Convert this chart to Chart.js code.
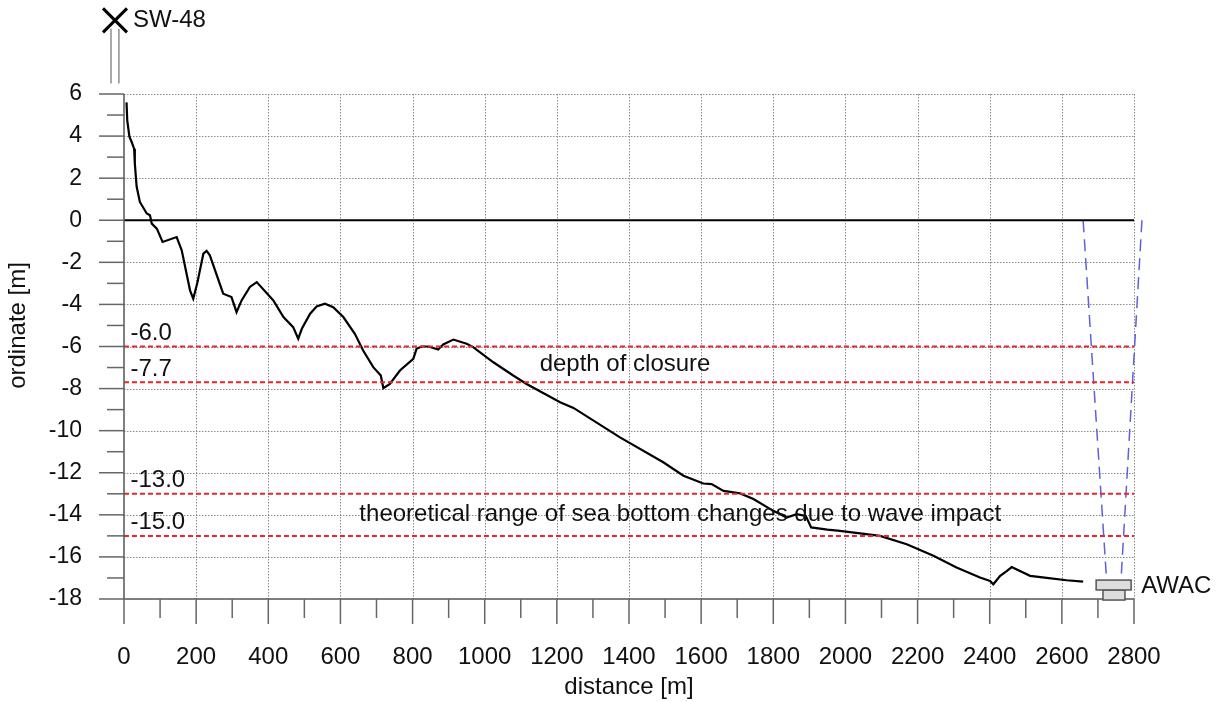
<!DOCTYPE html>
<html lang="en">
<head>
    <meta charset="UTF-8">
    <title>Profile SW-48</title>
    <script src="https://cdn.jsdelivr.net/npm/chart.js"></script>
    <style>
        body {
            margin: 0;
            background-color: #ffffff;
        }
        .wrap {
            width: 1226px;
            height: 702px;
        }
    </style>
</head>
<body>
    <div class="wrap">
        <canvas id="profileChart" width="1226" height="702"></canvas>
    </div>

    <script>
        // cross-shore profile, distance [m] vs ordinate [m]
        const profileDist = [7, 9, 15, 21, 28, 30, 35, 44, 63, 72, 77, 91, 107, 146, 160, 183, 192, 203, 220, 229,
            238, 275, 298, 312, 326, 349, 368, 414, 442, 469, 483, 493, 516, 534, 557, 580, 608, 640, 663, 691,
            712, 719, 737, 765, 802, 811, 825, 844, 871, 885, 913, 950, 968, 1024, 1079, 1116, 1153, 1209, 1246, 1375,
            1495, 1551, 1606, 1629, 1662, 1708, 1745, 1800, 1837, 1865, 1890, 1905, 1950, 1985, 2096, 2170, 2244, 2308, 2373, 2401,
            2410, 2429, 2447, 2461, 2475, 2512, 2558, 2613, 2659];
        const profileDepth = [5.6, 4.75, 3.97, 3.73, 3.4, 2.7, 1.6, 0.87, 0.32, 0.24, -0.16, -0.4, -1.03, -0.8, -1.43, -3.33, -3.73, -3.0, -1.59, -1.46,
            -1.67, -3.49, -3.65, -4.37, -3.81, -3.17, -2.94, -3.81, -4.6, -5.08, -5.63, -5.16, -4.44, -4.1, -3.97, -4.13, -4.6, -5.4, -6.19, -6.98,
            -7.38, -7.98, -7.78, -7.14, -6.59, -6.11, -6.0, -6.0, -6.14, -5.9, -5.67, -5.87, -6.03, -6.75, -7.38, -7.78, -8.13, -8.65, -8.92, -10.32,
            -11.5, -12.14, -12.51, -12.54, -12.86, -12.98, -13.25, -13.81, -14.13, -13.97, -14.05, -14.6, -14.7, -14.76, -15.0, -15.4, -15.95, -16.5, -16.98, -17.14,
            -17.3, -16.9, -16.67, -16.48, -16.6, -16.9, -17.0, -17.11, -17.17];

        const closureLevels = [-6.0, -7.7];
        const bottomChangeLevels = [-13.0, -15.0];
        const seaLevel = 0;

        // AWAC beam lines (distance, ordinate)
        const beamLeft = [[2659, 0], [2724, -17.1]];
        const beamRight = [[2822, 0], [2764, -17.1]];

        const xRange = [0, 2800];
        const yRange = [-18, 6];
        const xMajorStep = 200;
        const yMajorStep = 2;

        const FONT = 'Arial, "Liberation Sans", sans-serif';

        function hLine(level) {
            return [{ x: xRange[0], y: level }, { x: xRange[1], y: level }];
        }

        function pts(list) {
            return list.map(p => ({ x: p[0], y: p[1] }));
        }

        function strokeLine(ctx, x1, y1, x2, y2) {
            ctx.beginPath();
            ctx.moveTo(x1, y1);
            ctx.lineTo(x2, y2);
            ctx.stroke();
        }

        // dotted grid on the major steps only
        const gridPlugin = {
            id: 'dottedGrid',
            beforeDatasetsDraw(chart) {
                const { ctx, chartArea, scales: { x, y } } = chart;
                ctx.save();
                ctx.strokeStyle = '#8a8a8a';
                ctx.lineWidth = 1;
                ctx.setLineDash([1.5, 1.5]);
                for (let v = x.min + xMajorStep; v <= x.max; v += xMajorStep) {
                    const px = Math.round(x.getPixelForValue(v)) + 0.5;
                    strokeLine(ctx, px, chartArea.top, px, chartArea.bottom);
                }
                for (let v = y.min + yMajorStep; v <= y.max; v += yMajorStep) {
                    const py = Math.round(y.getPixelForValue(v)) + 0.5;
                    strokeLine(ctx, chartArea.left, py, chartArea.right, py);
                }
                ctx.restore();
            }
        };

        // tick marks, axis title, station marks and text notes
        const extrasPlugin = {
            id: 'extras',
            afterDraw(chart) {
                const { ctx, chartArea, scales: { x, y } } = chart;
                const line = (x1, y1, x2, y2) => strokeLine(ctx, x1, y1, x2, y2);
                ctx.save();
                ctx.strokeStyle = '#555';
                ctx.lineWidth = 1.5;
                line(chartArea.left, chartArea.top, chartArea.left, chartArea.bottom);
                line(chartArea.left, chartArea.bottom, chartArea.right, chartArea.bottom);
                ctx.strokeStyle = '#666';
                // major ticks plus a minor tick halfway between them
                for (let v = x.min; v <= x.max; v += xMajorStep / 2) {
                    const px = x.getPixelForValue(v);
                    const len = v % xMajorStep === 0 ? 25 : 19;
                    line(px, chartArea.bottom, px, chartArea.bottom + len);
                }
                for (let v = y.min; v <= y.max; v += yMajorStep / 2) {
                    const py = y.getPixelForValue(v);
                    const len = v % yMajorStep === 0 ? 25 : 17;
                    line(chartArea.left - len, py, chartArea.left, py);
                }

                // SW-48 benchmark
                ctx.strokeStyle = '#555';
                ctx.lineWidth = 1;
                line(x.getPixelForValue(-36), y.getPixelForValue(9.1), x.getPixelForValue(-36), y.getPixelForValue(6.5));
                line(x.getPixelForValue(-14), y.getPixelForValue(9.1), x.getPixelForValue(-14), y.getPixelForValue(6.5));
                ctx.strokeStyle = '#000';
                ctx.lineWidth = 3;
                const cx = x.getPixelForValue(-25), cy = y.getPixelForValue(9.5);
                line(cx - 12, cy - 12, cx + 12, cy + 12);
                line(cx - 12, cy + 12, cx + 12, cy - 12);

                // AWAC device
                ctx.lineWidth = 1.5;
                ctx.strokeStyle = '#555';
                ctx.fillStyle = '#dddddd';
                const box = (x1, y1, x2, y2) => {
                    const l = x.getPixelForValue(x1), r = x.getPixelForValue(x2);
                    const t = y.getPixelForValue(y1), b = y.getPixelForValue(y2);
                    ctx.fillRect(l, t, r - l, b - t);
                    ctx.strokeRect(l, t, r - l, b - t);
                };
                box(2714, -17.57, 2775, -18.05);
                box(2695, -17.1, 2792, -17.57);

                ctx.fillStyle = '#111';
                ctx.font = '24px ' + FONT;
                ctx.textBaseline = 'middle';
                ctx.textAlign = 'left';
                ctx.fillText('SW-48', x.getPixelForValue(25), y.getPixelForValue(9.5));
                ctx.fillText('AWAC', x.getPixelForValue(2820), y.getPixelForValue(-17.4));
                closureLevels.concat(bottomChangeLevels).forEach(v => {
                    ctx.fillText(v.toFixed(1), x.getPixelForValue(18), y.getPixelForValue(v + 0.62));
                });
                ctx.textAlign = 'center';
                ctx.fillText('depth of closure', x.getPixelForValue(1389), y.getPixelForValue((closureLevels[0] + closureLevels[1]) / 2));
                ctx.fillText('theoretical range of sea bottom changes due to wave impact',
                    x.getPixelForValue(1542), y.getPixelForValue((bottomChangeLevels[0] + bottomChangeLevels[1]) / 2));

                // y axis title, sits a little above the middle of the axis
                ctx.save();
                ctx.translate(18, y.getPixelForValue(-5));
                ctx.rotate(-Math.PI / 2);
                ctx.fillText('ordinate [m]', 0, 0);
                ctx.restore();
                ctx.restore();
            }
        };

        const redDash = {
            borderColor: '#e8262b',
            borderWidth: 2,
            borderDash: [5, 3],
            pointRadius: 0,
            showLine: true
        };

        const beamStyle = {
            borderColor: '#6060d8',
            borderWidth: 1.5,
            borderDash: [12, 7],
            pointRadius: 0,
            showLine: true,
            clip: false
        };

        const datasets = [
            ...closureLevels.concat(bottomChangeLevels).map(v => Object.assign({ data: hLine(v) }, redDash)),
            {
                data: hLine(seaLevel),
                borderColor: '#000',
                borderWidth: 2,
                pointRadius: 0,
                showLine: true
            },
            {
                data: profileDist.map((d, i) => ({ x: d, y: profileDepth[i] })),
                borderColor: '#000',
                borderWidth: 2.2,
                pointRadius: 0,
                showLine: true
            },
            Object.assign({ data: pts(beamLeft) }, beamStyle),
            Object.assign({ data: pts(beamRight) }, beamStyle)
        ];

        new Chart(document.getElementById('profileChart'), {
            type: 'scatter',
            data: { datasets: datasets },
            options: {
                responsive: false,
                animation: false,
                events: [],
                layout: { padding: { top: 94, right: 92, left: 0, bottom: 0 } },
                plugins: {
                    legend: { display: false },
                    tooltip: { enabled: false }
                },
                scales: {
                    x: {
                        type: 'linear',
                        min: xRange[0],
                        max: xRange[1],
                        afterFit: s => { s.height = 103; },
                        ticks: {
                            stepSize: xMajorStep,
                            autoSkip: false,
                            maxRotation: 0,
                            padding: 19,
                            color: '#111',
                            font: { family: FONT, size: 24 },
                            callback: v => String(v)
                        },
                        grid: {
                            display: false,
                            tickLength: 25
                        },
                        border: { display: false },
                        title: {
                            display: true,
                            text: 'distance [m]',
                            color: '#111',
                            font: { family: FONT, size: 24 },
                            padding: { top: 0, bottom: 0 }
                        }
                    },
                    y: {
                        type: 'linear',
                        min: yRange[0],
                        max: yRange[1],
                        afterFit: s => { s.width = 124; },
                        ticks: {
                            stepSize: yMajorStep,
                            autoSkip: false,
                            padding: 17,
                            color: '#111',
                            font: { family: FONT, size: 23 },
                            callback: v => String(v)
                        },
                        grid: {
                            display: false,
                            tickLength: 25
                        },
                        border: { display: false },
                        title: { display: false }
                    }
                }
            },
            plugins: [gridPlugin, extrasPlugin]
        });
    </script>
</body>
</html>
